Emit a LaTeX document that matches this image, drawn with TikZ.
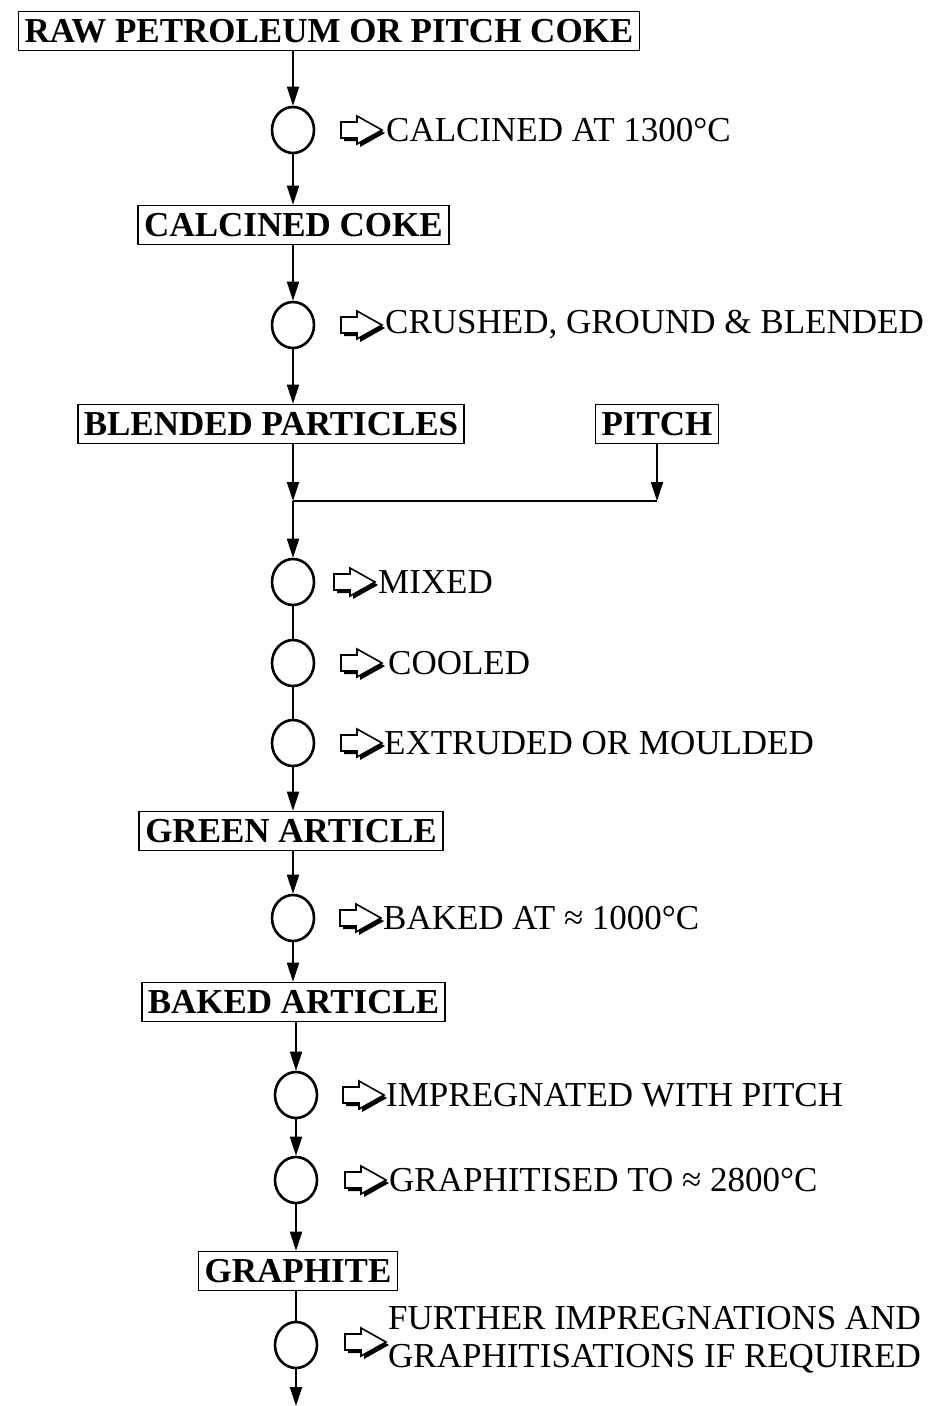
\documentclass[tikz,border=0pt]{standalone}
\usepackage{fontspec}
\setmainfont{Liberation Serif}
\usetikzlibrary{arrows.meta,shapes.geometric}
\tikzset{
  x=1pt,y=-1pt,
  stagebox/.style={draw,line width=1.6pt,font=\bfseries\fontsize{35}{38}\selectfont,inner xsep=6pt,inner ysep=0pt,minimum height=39pt},
  proc/.style={draw,line width=2.6pt,ellipse,minimum width=42pt,minimum height=46pt,inner sep=0pt},
  lbl/.style={anchor=west,font=\fontsize{35}{38}\selectfont,inner sep=0pt},
  flow/.style={line width=1.8pt,-{Triangle[length=19pt,width=12pt]}},
  link/.style={line width=1.8pt},
}
\newcommand{\hollowarrow}[1]{%
  \begin{scope}[shift={#1}]
    \fill (3,3) -- (3,-5) -- (19,-5) -- (19,-11) -- (44,3) -- (19,17) -- (19,11) -- (3,11) -- cycle;
    \filldraw[fill=white,line width=1.6pt,line join=miter] (0,0) -- (0,-8) -- (16,-8) -- (16,-14) -- (41,0) -- (16,14) -- (16,8) -- (0,8) -- cycle;
  \end{scope}}
\begin{document}
\begin{tikzpicture}
\useasboundingbox (0,0) rectangle (933,1406);
% boxes
\node[stagebox] (raw) at (329,31) {RAW PETROLEUM OR PITCH COKE};
\node[stagebox] (cc) at (293.5,225) {CALCINED COKE};
\node[stagebox] (bp) at (271,424) {BLENDED PARTICLES};
\node[stagebox] (pitch) at (657,424) {PITCH};
\node[stagebox] (ga) at (291,831) {GREEN ARTICLE};
\node[stagebox] (ba) at (293.5,1002) {BAKED ARTICLE};
\node[stagebox] (gr) at (298,1271) {GRAPHITE};
% process circles
\node[proc] (c1) at (293,130) {};
\node[proc] (c2) at (293,325) {};
\node[proc] (c3) at (293,582) {};
\node[proc] (c4) at (293,663) {};
\node[proc] (c5) at (293,743) {};
\node[proc] (c6) at (293,918) {};
\node[proc] (c7) at (296,1095) {};
\node[proc] (c8) at (296,1180) {};
\node[proc] (c9) at (296,1345) {};
% labels
\hollowarrow{(341,130)}
\node[lbl] (l1) at (386,130) {CALCINED AT 1300°C};
\hollowarrow{(341,325)}
\node[lbl] (l2) at (385,325) {CRUSHED, GROUND \& BLENDED};
\hollowarrow{(334,582)}
\node[lbl] (l3) at (378,582) {MIXED};
\hollowarrow{(341,663)}
\node[lbl] (l4) at (388,663) {COOLED};
\hollowarrow{(341,743)}
\node[lbl] (l5) at (384,743) {EXTRUDED OR MOULDED};
\hollowarrow{(340,918)}
\node[lbl] (l6) at (383,918) {BAKED AT ≈ 1000°C};
\hollowarrow{(343,1095)}
\node[lbl] (l7) at (386,1095) {IMPREGNATED WITH PITCH};
\hollowarrow{(345,1180)}
\node[lbl] (l8) at (389,1180) {GRAPHITISED TO ≈ 2800°C};
\hollowarrow{(345,1342)}
\node[lbl,align=left] (l9) at (388,1340) {FURTHER IMPREGNATIONS AND\\GRAPHITISATIONS IF REQUIRED};
% connectors
\coordinate (j) at (293,501);
\coordinate (pj) at (pitch.south |- j);
\coordinate (fin) at (296,1406);
\draw[flow] (raw.south -| c1) -- (c1);
\draw[flow] (c1) -- (c1 |- cc.north);
\draw[flow] (c2 |- cc.south) -- (c2);
\draw[flow] (c2) -- (c2 |- bp.north);
\draw[flow] (c2 |- bp.south) -- (j);
\draw[flow] (pitch.south) -- (pj);
\draw[link] (pj) -- (j);
\draw[flow] (j) -- (c3);
\draw[link] (c3) -- (c4);
\draw[link] (c4) -- (c5);
\draw[flow] (c5) -- (c5 |- ga.north);
\draw[flow] (c6 |- ga.south) -- (c6);
\draw[flow] (c6) -- (c6 |- ba.north);
\draw[flow] (c7 |- ba.south) -- (c7);
\draw[flow] (c7) -- (c8);
\draw[flow] (c8) -- (c8 |- gr.north);
\draw[link] (c9 |- gr.south) -- (c9);
\draw[flow] (c9) -- (fin);
\end{tikzpicture}
\end{document}
